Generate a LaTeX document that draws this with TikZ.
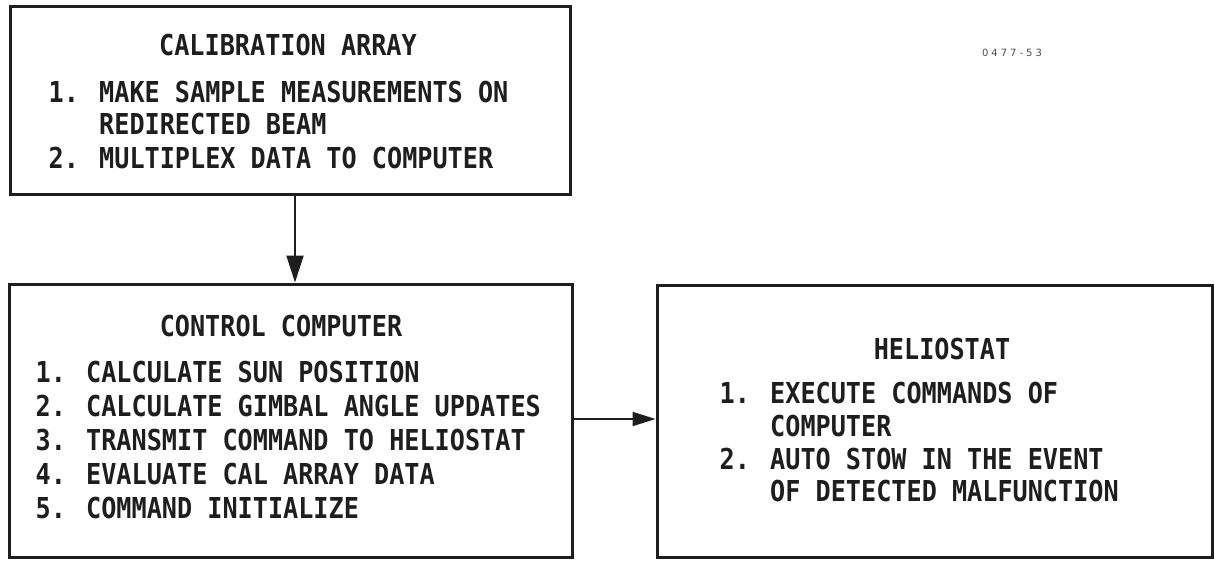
\documentclass[tikz,border=0pt]{standalone}
\usepackage{fontspec}
\usetikzlibrary{arrows.meta}
% condensed block lettering for all box texts
\newfontfamily\letterfont{DejaVu Sans Mono}[FakeStretch=0.874]
\newfontfamily\tagfont{DejaVu Sans}[LetterSpace=30]
\newcommand\lettering{\letterfont\bfseries\fontsize{28.8}{34}\selectfont}
\definecolor{ink}{HTML}{1E1E1E}
\begin{document}
\begin{tikzpicture}[x=1pt,y=-1pt,
  box/.style={draw=ink, line width=3pt, rectangle, inner sep=0pt},
  ttl/.style={anchor=base, inner sep=0pt, text=ink, font=\lettering},
  itm/.style={anchor=base west, inner sep=0pt, text=ink, font=\lettering},
  flow/.style={draw=ink, line width=2pt},
  bigtip/.style={-{Triangle[length=27pt,width=17pt]}},
  smalltip/.style={-{Triangle[length=23pt,width=14pt]}}]
\useasboundingbox (0,0) rectangle (1214,560);

% the three blocks
\node[box, minimum width=560pt, minimum height=188pt] (cal) at (290,100) {};
\node[box, minimum width=563pt, minimum height=273pt] (ctrl) at (290.5,420.5) {};
\node[box, minimum width=555pt, minimum height=272pt] (helio) at (934.5,421) {};

% calibration array
\node[ttl] (calT) at (288,55) {CALIBRATION ARRAY};
\node[itm] (cal1) at (48.5,102) {1. MAKE SAMPLE MEASUREMENTS ON};
\node[itm] (cal1b) at (48.5,134) {\hphantom{1. }REDIRECTED BEAM};
\node[itm] (cal2) at (48.5,168) {2. MULTIPLEX DATA TO COMPUTER};

% control computer
\node[ttl] (ctrlT) at (281,336) {CONTROL COMPUTER};
\node[itm] (ctrl1) at (35.5,382) {1. CALCULATE SUN POSITION};
\node[itm] (ctrl2) at (35.5,416) {2. CALCULATE GIMBAL ANGLE UPDATES};
\node[itm] (ctrl3) at (35.5,450) {3. TRANSMIT COMMAND TO HELIOSTAT};
\node[itm] (ctrl4) at (35.5,484) {4. EVALUATE CAL ARRAY DATA};
\node[itm] (ctrl5) at (35.5,518) {5. COMMAND INITIALIZE};

% heliostat
\node[ttl] (helioT) at (942,359) {HELIOSTAT};
\node[itm] (helio1) at (719.5,403) {1. EXECUTE COMMANDS OF};
\node[itm] (helio1b) at (719.5,436) {\hphantom{1. }COMPUTER};
\node[itm] (helio2) at (719.5,469) {2. AUTO STOW IN THE EVENT};
\node[itm] (helio2b) at (719.5,501) {\hphantom{2. }OF DETECTED MALFUNCTION};

% drawing number
\node[inner sep=0pt, text=black!70, font=\tagfont\fontsize{10}{10}\selectfont] (tag) at (1012,53) {0477-53};

% data flow
\coordinate (downx) at (295,0);
\coordinate (acrossy) at (0,419);
\draw[flow, bigtip] (cal.south -| downx) -- (ctrl.north -| downx);
\draw[flow, smalltip] (ctrl.east |- acrossy) -- (helio.west |- acrossy);
\end{tikzpicture}
\end{document}
